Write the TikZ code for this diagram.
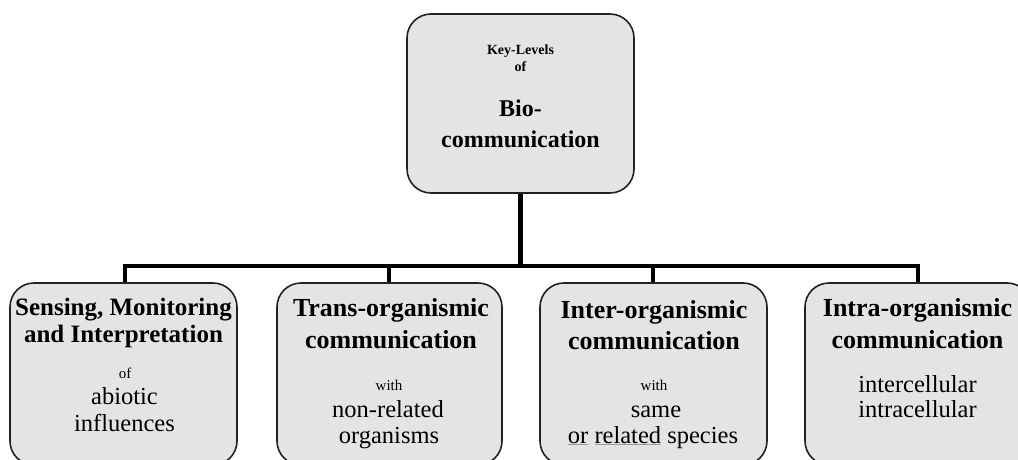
\documentclass[tikz,border=0pt]{standalone}
\usepackage{fontspec}
\setmainfont{Liberation Serif}
\definecolor{boxfill}{HTML}{E4E4E4}
\definecolor{boxline}{HTML}{222222}
\definecolor{ulgray}{HTML}{9A9A9A}
\newcommand{\grayul}[1]{\textcolor{ulgray}{\underline{\textcolor{black}{#1}}}}
\tikzset{
  box/.style={draw=boxline, line width=1.6pt, fill=boxfill, rounded corners=24pt, rectangle, inner sep=0pt},
  conn/.style={draw=black, line width=4.5pt, line join=miter},
  ln/.style={anchor=base, inner sep=0pt},
  ttl/.style={ln, font=\fontsize{25}{30}\selectfont\bfseries},
  ttlb/.style={ln, font=\fontsize{26}{30}\selectfont\bfseries},
  sml/.style={ln, font=\fontsize{15}{18}\selectfont},
  reg/.style={ln, font=\fontsize{24.5}{30}\selectfont},
  topsml/.style={ln, font=\fontsize{14}{17}\selectfont\bfseries},
  topbig/.style={ln, font=\fontsize{24}{28}\selectfont\bfseries},
}
\begin{document}
\begin{tikzpicture}[x=1pt, y=-1pt]
\useasboundingbox (0,0) rectangle (1018,460);
\clip (0,0) rectangle (1018,460);
\fill[white] (0,0) rectangle (1018,460);

% boxes
\node[box, minimum width=227pt, minimum height=179pt] (top) at (520.5,103.5) {};
\node[box, minimum width=227pt, minimum height=182pt] (b1) at (123.5,374) {};
\node[box, minimum width=225pt, minimum height=182pt] (b2) at (389.5,374) {};
\node[box, minimum width=227pt, minimum height=182pt] (b3) at (653.5,374) {};
\node[box, minimum width=226pt, minimum height=182pt] (b4) at (918,374) {};

% connectors
\coordinate (s1) at (125,266);
\coordinate (s2) at (389,266);
\coordinate (s3) at (653,266);
\coordinate (s4) at (918,266);
\draw[conn] (top.south) -- (top.south |- s1);
\draw[conn] (b1.north -| s1) -- (s1) -- (s4) -- (b4.north -| s4);
\draw[conn] (s2) -- (b2.north -| s2);
\draw[conn] (s3) -- (b3.north -| s3);

% top text
\node[topsml] (t1) at (520.5,55) {Key-Levels};
\node[topsml] (t2) at (520.5,72) {of};
\node[topbig] (t3) at (520.5,117) {Bio-};
\node[topbig] (t4) at (520.5,147) {communication};

% box 1
\node[ttl] (a1) at (123.5,315) {Sensing, Monitoring};
\node[ttl] (a2) at (123.5,342) {and Interpretation};
\node[sml] (a3) at (125,378) {of};
\node[reg] (a4) at (124.5,404) {abiotic};
\node[reg] (a5) at (124.5,431) {influences};

% box 2
\node[ttlb] (c1) at (391,316) {Trans-organismic};
\node[ttlb] (c2) at (391,348) {communication};
\node[sml] (c3) at (389,390) {with};
\node[reg] (c4) at (388,417) {non-related};
\node[reg] (c5) at (389,443) {organisms};

% box 3
\node[ttlb] (d1) at (654,318) {Inter-organismic};
\node[ttlb] (d2) at (654,349) {communication};
\node[sml] (d3) at (654,390) {with};
\node[reg] (d4) at (656,417) {same};
\node[reg] (d5) at (653,443) {\grayul{or} \grayul{related} species};

% box 4
\node[ttlb] (e1) at (917.5,316) {Intra-organismic};
\node[ttlb] (e2) at (917.5,348) {communication};
\node[reg] (e3) at (917.5,392) {intercellular};
\node[reg] (e4) at (917.5,417) {intracellular};
\end{tikzpicture}
\end{document}
